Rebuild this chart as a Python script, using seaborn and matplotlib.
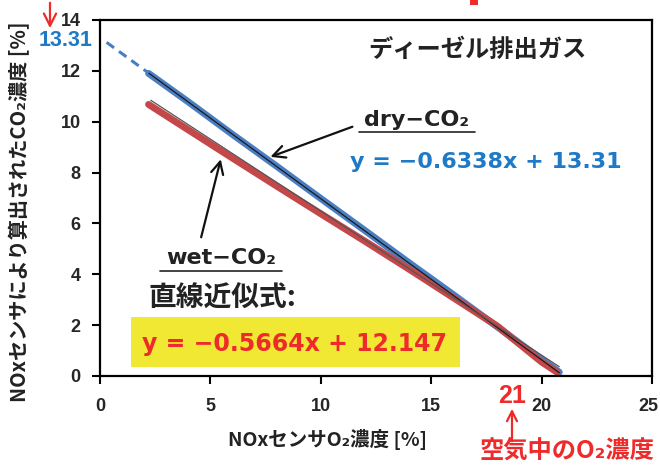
import matplotlib
matplotlib.use("Agg")
import matplotlib.pyplot as plt
from matplotlib.lines import Line2D
from matplotlib.patches import FancyArrowPatch, Rectangle
from matplotlib.transforms import ScaledTranslation
import seaborn as sns
import pandas as pd
import numpy as np

sns.set_theme(style="white")
plt.rcParams['font.family'] = ['Noto Sans CJK JP', 'DejaVu Sans']

# Measured NOx-sensor O2 vs calculated CO2 [%]
dry_o2 = [2.2, 4.0, 6.0, 8.0, 10.0, 12.0, 14.0, 16.0, 18.0, 20.0, 20.8]
dry_co2 = [11.9, 10.78, 9.5, 8.25, 6.98, 5.72, 4.45, 3.2, 1.93, 0.65, 0.15]
wet_o2 = [2.2, 4.0, 6.0, 8.0, 10.0, 12.0, 14.0, 16.0, 18.0, 20.0, 20.7]
wet_co2 = [10.68, 9.68, 8.57, 7.47, 6.38, 5.3, 4.2, 3.08, 1.96, 0.55, 0.15]

# Linear fits (slope, intercept)
dry_fit = (-0.6338, 13.31)
wet_fit = (-0.5664, 12.147)

x_ticks = [0, 5, 10, 15, 20, 25]
y_ticks = [0, 2, 4, 6, 8, 10, 12, 14]

W, H = 660, 466
fig = plt.figure(figsize=(W / 100, H / 100), dpi=100)
ax = fig.add_axes([100 / W, 1 - 376 / H, 552 / W, 356 / H])

df = pd.concat([
    pd.DataFrame({"O2": dry_o2, "CO2": dry_co2, "kind": "dry"}),
    pd.DataFrame({"O2": wet_o2, "CO2": wet_co2, "kind": "wet"}),
])
sns.lineplot(data=df, x="O2", y="CO2", hue="kind", sort=False,
             palette={"dry": "#4A7EC2", "wet": "#C4484A"},
             linewidth=5, legend=False, ax=ax, zorder=2)
ax.set_xlabel("")
ax.set_ylabel("")

# Fit lines
xd = np.array([2.2, 20.8])
ax.plot(xd, dry_fit[0] * xd + dry_fit[1], color="#1a1a1a", lw=0.9, zorder=3)
xe = np.array([0.3, 2.2])
ax.plot(xe, dry_fit[0] * xe + dry_fit[1], color="#4A7EC2", lw=2.2,
        ls=(0, (3, 2)), zorder=3)
xw = np.array([2.3, 20.8])
ax.plot(xw, wet_fit[0] * xw + wet_fit[1], color="#555555", lw=0.9, zorder=3)

tick_font = ["Liberation Sans", "DejaVu Sans"]
ax.set_xlim(0, 25)
ax.set_ylim(0, 14)
ax.set_xticks(x_ticks)
ax.set_yticks(y_ticks)
ax.set_xticklabels([str(v) for v in x_ticks], fontsize=13, fontweight="bold",
                   family=tick_font)
ax.set_yticklabels([str(v) for v in y_ticks], fontsize=13, fontweight="bold",
                   family=tick_font)
ax.tick_params(axis="x", direction="out", length=6, width=1.5, color="black",
               bottom=True, pad=10)
ax.tick_params(axis="y", direction="out", length=6, width=1.5, color="black",
               left=True, pad=8)
# keep the last x label inside the canvas
last = ax.get_xticklabels()[-1]
last.set_transform(last.get_transform()
                   + ScaledTranslation(-4 / 100, 0, fig.dpi_scale_trans))
for s in ax.spines.values():
    s.set_color("black")
    s.set_linewidth(1.6)


def ft(px, py, s, **kw):
    fig.text(px / W, 1 - py / H, s, **kw)


# Axis titles
ft(328, 439, "NOxセンサO₂濃度 [%]", fontsize=14, fontweight="bold",
   ha="center", va="center", color="#222222")
ft(20, 212, "NOxセンサにより算出されたCO₂濃度 [%]", fontsize=14.5,
   fontweight="bold", ha="center", va="center", rotation=90, color="#222222")

# Title inside plot
ft(477, 50, "ディーゼル排出ガス", fontsize=17.5, fontweight="bold",
   ha="center", va="center", color="#222222")

# dry-CO2 label with underline
ft(417, 120, "dry−CO₂", fontsize=16, fontweight="bold", ha="center",
   va="center", color="#222222", family=["DejaVu Sans"])
fig.add_artist(Line2D([359 / W, 475 / W], [1 - 132 / H, 1 - 132 / H],
                      color="#222222", lw=1.2))
ft(486, 162, "y = −0.6338x + 13.31", fontsize=16, fontweight="bold",
   ha="center", va="center", color="#1E7AC6", family=["DejaVu Sans"])

# wet-CO2 label with underline
ft(221, 258, "wet−CO₂", fontsize=16, fontweight="bold", ha="center",
   va="center", color="#222222", family=["DejaVu Sans"])
fig.add_artist(Line2D([160 / W, 282 / W], [1 - 271 / H, 1 - 271 / H],
                      color="#222222", lw=1.2))

# Arrows pointing at the series
ax.annotate("", xy=(7.6, 8.58), xytext=(11.55, 9.84),
            arrowprops=dict(arrowstyle="->", color="#111111", lw=1.6,
                            mutation_scale=22))
ax.annotate("", xy=(5.5, 8.63), xytext=(4.55, 5.35),
            arrowprops=dict(arrowstyle="->", color="#111111", lw=1.6,
                            mutation_scale=22))

# Fitted-equation caption
ft(222, 299, "直線近似式:", fontsize=20, fontweight="bold", ha="center",
   va="center", color="#222222")
fig.patches.append(Rectangle((131 / W, 1 - 367 / H), 329 / W, 50 / H,
                             transform=fig.transFigure,
                             facecolor="#F0E833", edgecolor="none", zorder=0))
ft(295, 344, "y = −0.5664x + 12.147", fontsize=17, fontweight="bold",
   ha="center", va="center", color="#EE2B2B", family=["DejaVu Sans"])

# Intercept callout
ft(66, 41, "13.31", fontsize=15.5, fontweight="bold", ha="center",
   va="center", color="#1E7AC6", family=tick_font)
fig.add_artist(FancyArrowPatch(
    (50 / W, 1.0), (50 / W, 1 - 31 / H), transform=fig.transFigure,
    arrowstyle="->", color="#EE2B2B", lw=1.6, mutation_scale=22))

# Air O2 callout
ft(512, 396, "21", fontsize=18, fontweight="bold", ha="center", va="center",
   color="#EE2B2B", family=tick_font)
fig.add_artist(FancyArrowPatch(
    (512 / W, 1 - 444 / H), (512 / W, 1 - 406 / H), transform=fig.transFigure,
    arrowstyle="->", color="#EE2B2B", lw=1.6, mutation_scale=18))
ft(567, 451, "空気中のO₂濃度", fontsize=17.5, fontweight="bold", ha="center",
   va="center", color="#EE2B2B")

# Small red mark at top edge
fig.patches.append(Rectangle((470 / W, 1 - 5 / H), 8 / W, 5 / H,
                             transform=fig.transFigure,
                             facecolor="#EE2B2B", edgecolor="none"))

fig.savefig("out.png", dpi=100)
